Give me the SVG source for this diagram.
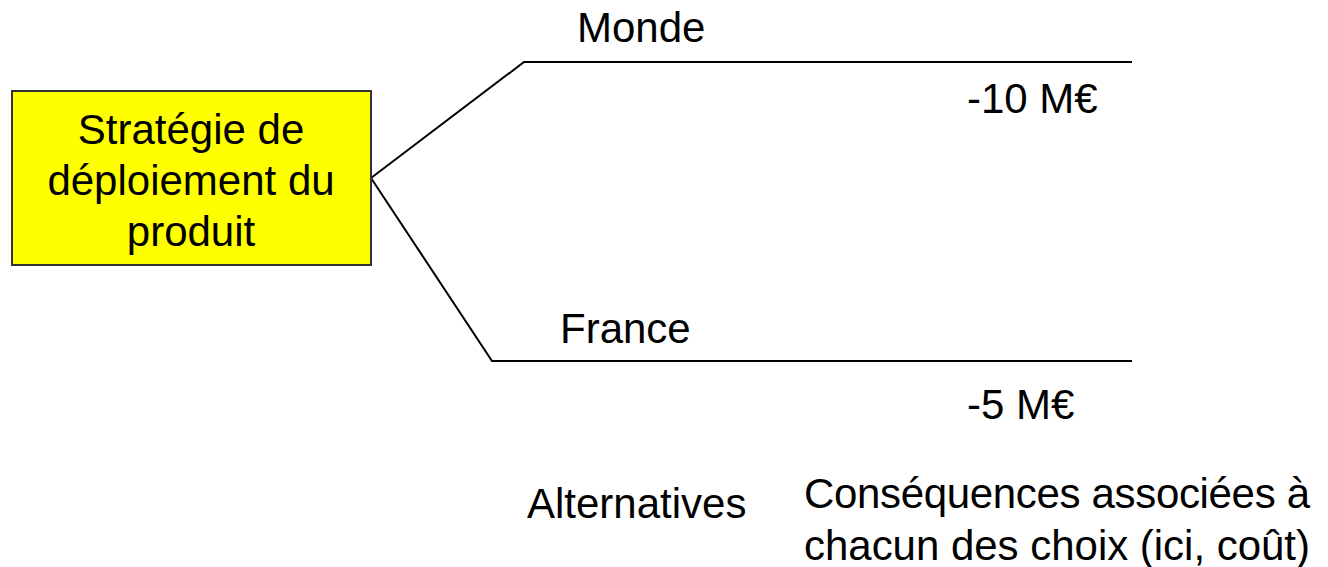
<svg xmlns="http://www.w3.org/2000/svg" width="1328" height="567" viewBox="0 0 1328 567">
<style>
text{font-family:"Liberation Sans",Arial,sans-serif;font-size:42px;fill:#000}
.c{stroke:#000;stroke-width:2;fill:none}
</style>
<rect width="1328" height="567" fill="#fff"/>
<g id="connectors">
<polyline class="c" points="371,178 524,62 1132,62"/>
<polyline class="c" points="371,178 492,361 1132,361"/>
</g>
<g id="node-strategie">
<rect x="12" y="91" width="359" height="174" fill="#ffff00" stroke="#333" stroke-width="2"/>
<text x="191" y="144" text-anchor="middle">Stratégie de</text>
<text x="191" y="195" text-anchor="middle">déploiement du</text>
<text x="191" y="246" text-anchor="middle">produit</text>
</g>
<g id="label-monde"><text x="577" y="42">Monde</text></g>
<g id="cost-monde"><text x="967" y="113">-10 M€</text></g>
<g id="label-france"><text x="560" y="343">France</text></g>
<g id="cost-france"><text x="967" y="419">-5 M€</text></g>
<g id="legend-alternatives"><text x="527" y="518">Alternatives</text></g>
<g id="legend-consequences">
<text x="804" y="508" textLength="506">Conséquences associées à</text>
<text x="804" y="560" textLength="506">chacun des choix (ici, coût)</text>
</g>
</svg>
